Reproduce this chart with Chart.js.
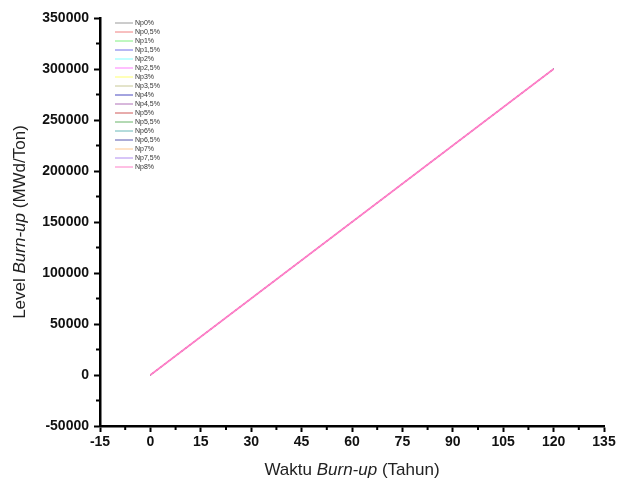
<!DOCTYPE html>
<html>
<head>
<meta charset="utf-8">
<script src="https://cdn.jsdelivr.net/npm/chart.js@4.4.1/dist/chart.umd.min.js"></script>
<style>
  html, body { margin: 0; padding: 0; background: #fff; }
  #wrap { width: 622px; height: 486px; }
</style>
</head>
<body>
<div id="wrap"><canvas id="chart" width="622" height="486"></canvas></div>
<script>
// ── Data ────────────────────────────────────────────
const seriesNames = ['Np0%', 'Np0,5%', 'Np1%', 'Np1,5%', 'Np2%', 'Np2,5%', 'Np3%', 'Np3,5%',
  'Np4%', 'Np4,5%', 'Np5%', 'Np5,5%', 'Np6%', 'Np6,5%', 'Np7%', 'Np7,5%', 'Np8%'];
const seriesColors = ['#9a9a9a', '#f08080', '#80f080', '#7070e8', '#80ffff', '#ff80ff', '#ffff70', '#c8c896',
  '#4848c0', '#b070b8', '#d05858', '#68b468', '#68b8b8', '#5858b0', '#ffc890', '#b08cf0', '#ff80c8'];
const years = [0, 10, 20, 30, 40, 50, 60, 70, 80, 90, 100, 110, 120];
const burnup = [0, 25000, 50000, 75000, 100000, 125000, 150000, 175000, 200000, 225000, 250000, 275000, 300000];
const xTicks = [-15, 0, 15, 30, 45, 60, 75, 90, 105, 120, 135];
const yTicks = [-50000, 0, 50000, 100000, 150000, 200000, 250000, 300000, 350000];

const LABEL_FONT = "'Liberation Sans', Arial, sans-serif";

// ── Plugins ─────────────────────────────────────────
// minor ticks halfway between major ones
const minorTicks = {
  id: 'minorTicks',
  afterDraw(chart) {
    const { ctx, scales: { x, y } } = chart;
    ctx.save();
    ctx.strokeStyle = '#000';
    ctx.lineWidth = 2;
    ctx.beginPath();
    for (let i = 0; i < xTicks.length - 1; i++) {
      const px = x.getPixelForValue((xTicks[i] + xTicks[i + 1]) / 2);
      ctx.moveTo(px, y.bottom);
      ctx.lineTo(px, y.bottom + 4);
    }
    for (let i = 0; i < yTicks.length - 1; i++) {
      const py = y.getPixelForValue((yTicks[i] + yTicks[i + 1]) / 2);
      ctx.moveTo(x.left, py);
      ctx.lineTo(x.left - 4, py);
    }
    ctx.stroke();
    ctx.restore();
  }
};

// axis titles with italic "Burn-up"
function drawMixed(ctx, parts, size) {
  const widths = parts.map(p => {
    ctx.font = `${p[1] ? 'italic ' : ''}${size}px ${LABEL_FONT}`;
    return ctx.measureText(p[0]).width;
  });
  let cx = -widths.reduce((a, b) => a + b, 0) / 2;
  parts.forEach((p, i) => {
    ctx.font = `${p[1] ? 'italic ' : ''}${size}px ${LABEL_FONT}`;
    ctx.fillText(p[0], cx, 0);
    cx += widths[i];
  });
}

const axisTitles = {
  id: 'axisTitles',
  afterDraw(chart) {
    const { ctx, chartArea } = chart;
    ctx.save();
    ctx.fillStyle = '#222';
    ctx.textAlign = 'left';
    ctx.textBaseline = 'middle';
    ctx.translate((chartArea.left + chartArea.right) / 2, 470);
    drawMixed(ctx, [['Waktu ', false], ['Burn-up', true], [' (Tahun)', false]], 17);
    ctx.restore();

    ctx.save();
    ctx.fillStyle = '#222';
    ctx.textAlign = 'left';
    ctx.textBaseline = 'middle';
    ctx.translate(20, 222);
    ctx.rotate(-Math.PI / 2);
    drawMixed(ctx, [['Level ', false], ['Burn-up', true], [' (MWd/Ton)', false]], 17);
    ctx.restore();
  }
};

// small legend inside the plot
const miniLegend = {
  id: 'miniLegend',
  afterDraw(chart) {
    const { ctx } = chart;
    ctx.save();
    ctx.font = `7px ${LABEL_FONT}`;
    ctx.textBaseline = 'middle';
    ctx.fillStyle = '#333';
    seriesNames.forEach((name, i) => {
      const yy = 23 + i * 9;
      ctx.strokeStyle = seriesColors[i];
      ctx.lineWidth = 1;
      ctx.beginPath();
      ctx.moveTo(115, yy);
      ctx.lineTo(133, yy);
      ctx.stroke();
      ctx.fillText(name, 135, yy);
    });
    ctx.restore();
  }
};

// ── Chart ───────────────────────────────────────────
const last = seriesNames.length - 1;
const datasets = seriesNames.map((name, i) => ({
  label: name,
  data: years.map((t, j) => ({ x: t, y: burnup[j] })),
  borderColor: seriesColors[i],
  backgroundColor: seriesColors[i],
  borderWidth: i === last ? 1.8 : 1,
  pointRadius: 0,
  tension: 0,
  order: seriesNames.length - i,
}));

new Chart(document.getElementById('chart'), {
  type: 'line',
  data: { datasets },
  options: {
    responsive: false,
    animation: false,
    layout: { padding: { left: 0, right: 18, top: 18, bottom: 0 } },
    plugins: {
      legend: { display: false },
      tooltip: { enabled: false },
    },
    scales: {
      x: {
        type: 'linear',
        min: -15,
        max: 135,
        afterBuildTicks: s => { s.ticks = xTicks.map(v => ({ value: v })); },
        afterFit: s => { s.height = 60; },
        border: { display: true, color: '#000', width: 2.5 },
        grid: { drawOnChartArea: false, drawTicks: true, tickLength: 6, tickWidth: 2, tickColor: '#000' },
        ticks: {
          color: '#111',
          padding: 2,
          maxRotation: 0,
          font: { family: LABEL_FONT, size: 14, weight: 'bold' },
        },
      },
      y: {
        type: 'linear',
        min: -50000,
        max: 350000,
        afterBuildTicks: s => { s.ticks = yTicks.map(v => ({ value: v })); },
        afterFit: s => { s.width = 100; },
        border: { display: true, color: '#000', width: 2.5 },
        grid: { drawOnChartArea: false, drawTicks: true, tickLength: 6, tickWidth: 2, tickColor: '#000' },
        ticks: {
          color: '#111',
          padding: 5,
          font: { family: LABEL_FONT, size: 14, weight: 'bold' },
          callback: v => String(v),
        },
      },
    },
  },
  plugins: [minorTicks, axisTitles, miniLegend],
});
</script>
</body>
</html>
